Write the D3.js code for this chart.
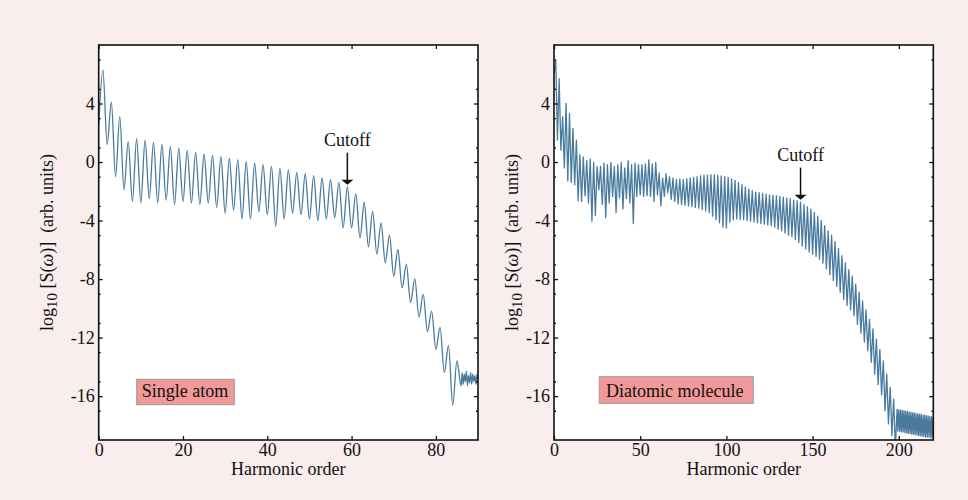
<!DOCTYPE html>
<html lang="en">
<head>
  <meta charset="UTF-8">
  <title>HHG spectra: single atom vs diatomic molecule</title>
  <script src="https://d3js.org/d3.v7.min.js"></script>
  <style>
    body {
      margin: 0;
      background: #f9eded;
    }

    svg {
      display: block;
      font-family: "Liberation Serif", "Times New Roman", serif;
    }

    .tick text {
      font-family: "Liberation Serif", "Times New Roman", serif;
      font-size: 18px;
      fill: #111;
    }
  </style>
</head>
<body>
  <div id="chart"></div>
  <script>

    const yMajorTicks = [-16, -12, -8, -4, 0, 4]
    const yMinorTicks = [-17, -15, -13, -11, -9, -7, -5, -3, -1, 1, 3, 5, 7]
    const atomOrderTicks = [0, 20, 40, 60, 80]
    const moleculeOrderTicks = [0, 50, 100, 150, 200]

    // single atom: log10 S at odd orders 1..85 (peaks) and even orders 0..84 (dips)
    const atomPeaks = [6.3, 4.1, 3.1, 1.4, 1.6, 1.5, 1.35, 1.2, 1.06, 0.95,
      0.8, 0.68, 0.55, 0.45, 0.38, 0.27, 0.16, 0.04, -0.07, -0.18,
      -0.3, -0.41, -0.53, -0.71, -0.8, -0.93, -1.09, -1.2, -1.39, -1.7,
      -2.18, -2.75, -3.37, -4.16, -5.0, -5.98, -7.0, -7.98, -9.05, -10.19,
      -11.3, -12.53, -13.6]
    const atomDips = [2.5, 1.2, -1.0, -1.9, -2.7, -2.8, -2.5, -2.8, -2.6, -2.9,
      -2.7, -2.8, -2.9, -2.8, -3.1, -3.5, -3.3, -3.9, -3.9, -3.4,
      -3.6, -4.4, -3.9, -3.5, -3.6, -3.9, -4.0, -3.9, -3.8, -4.5,
      -4.5, -5.2, -5.8, -6.3, -6.9, -7.8, -8.6, -9.6, -10.6, -11.6,
      -12.8, -14.4, -16.6]
    const atomTailOrders = [86, 86.25, 86.5, 86.75, 87, 87.25, 87.5, 87.75, 88,
      88.25, 88.5, 88.75, 89, 89.25, 89.5, 89.75, 90]
    const atomTailValues = [-15.3, -14.4, -15.2, -14.5, -15.0, -14.3, -15.3, -14.6, -15.1,
      -14.4, -15.2, -14.5, -15.0, -14.6, -15.2, -14.5, -14.9]

    // diatomic molecule: odd orders 1..197 (peaks) and even orders 0..198 (dips)
    const moleculePeaks = [7.0, 5.7, 3.1, 4.0, 3.3, 2.3, 1.5, 0.5, 0.35, 0.1,
      0.2, 0.0, -0.3, -0.3, -0.07, -0.18, -0.03, -0.3, -0.18, -0.03,
      -0.4, 0.1, -0.18, -0.07, -0.18, -0.18, -0.12, 0.15, -0.12, -0.03,
      -0.75, -1.1, -0.8, -1.0, -1.1, -1.2, -1.15, -1.2, -1.15, -1.1,
      -1.05, -1.0, -0.95, -0.9, -0.88, -0.87, -0.87, -0.9, -0.95, -1.0,
      -1.05, -1.15, -1.25, -1.4, -1.55, -1.7, -1.85, -1.95, -2.05, -2.1,
      -2.15, -2.2, -2.25, -2.28, -2.3, -2.35, -2.4, -2.45, -2.5, -2.6,
      -2.65, -2.75, -2.9, -3.05, -3.2, -3.45, -3.7, -4.0, -4.35, -4.7,
      -5.0, -5.45, -5.9, -6.4, -6.9, -7.35, -7.8, -8.35, -8.9, -9.5,
      -10.1, -10.75, -11.4, -12.1, -12.8, -13.6, -14.5, -15.4, -16.2]
    const moleculeDips = [6.0, 1.5, 0.8, -0.4, -1.3, -1.4, -1.55, -2.65, -2.7, -2.3,
      -2.8, -4.05, -3.65, -1.9, -2.9, -3.8, -2.8, -2.35, -3.45, -2.45,
      -3.2, -2.5, -2.8, -4.2, -2.35, -2.25, -2.35, -2.3, -2.35, -2.7,
      -2.25, -3.0, -2.35, -2.1, -2.55, -2.7, -2.85, -2.9, -2.95, -3.0,
      -3.05, -3.1, -3.15, -3.25, -3.35, -3.45, -3.7, -3.95, -4.15, -4.45,
      -4.5, -4.1, -3.95, -3.9, -3.95, -3.95, -4.0, -4.05, -4.1, -4.15,
      -4.2, -4.25, -4.3, -4.35, -4.45, -4.6, -4.7, -4.85, -5.0, -5.1,
      -5.3, -5.5, -5.75, -5.95, -6.15, -6.3, -6.45, -6.65, -6.9, -7.3,
      -7.7, -8.1, -8.5, -8.9, -9.4, -9.8, -10.1, -10.5, -11.1, -11.7,
      -12.3, -12.9, -13.7, -14.5, -15.2, -15.9, -17.0, -17.9, -18.7, -19.5]
    const moleculeTailOrders = [199, 199.5, 200, 200.5, 201, 201.5, 202, 202.5, 203, 203.5,
      204, 204.5, 205, 205.5, 206, 206.5, 207, 207.5, 208, 208.5,
      209, 209.5, 210, 210.5, 211, 211.5, 212, 212.5, 213, 213.5,
      214, 214.5, 215, 215.5, 216, 216.5, 217, 217.5, 218, 218.5,
      219, 219.5, 220]
    const moleculeTailValues = [-16.9, -18.4, -16.95, -18.4, -16.95, -18.45, -17.0, -18.45, -17.0, -18.5,
      -17.05, -18.5, -17.05, -18.55, -17.1, -18.55, -17.1, -18.6, -17.15, -18.6,
      -17.15, -18.65, -17.2, -18.65, -17.2, -18.7, -17.25, -18.7, -17.25, -18.75,
      -17.3, -18.75, -17.3, -18.8, -17.35, -18.8, -17.35, -18.8, -17.4, -18.85,
      -17.4, -18.85, -17.45]

    function spectrum(peaks, dips, tailOrders, tailValues) {
      const pts = []
      dips.forEach((d, i) => {
        pts.push([2 * i, d])
        if (i < peaks.length) pts.push([2 * i + 1, peaks[i]])
      })
      tailOrders.forEach((o, i) => pts.push([o, tailValues[i]]))
      return pts
    }

    const width = 968
    const height = 500
    const plotTop = 45
    const plotW = 379.3
    const plotH = 395
    const lineColor = '#497b9f'

    const svg = d3.select('#chart')
      .append('svg')
      .attr('width', width)
      .attr('height', height)

    svg.append('rect')
      .attr('width', width)
      .attr('height', height)
      .attr('fill', '#f9eded')

    const panels = [
      {
        id: 'atom', left: 98.7, domain: [0, 90], ticks: atomOrderTicks,
        data: spectrum(atomPeaks, atomDips, atomTailOrders, atomTailValues),
        curve: d3.curveMonotoneX, width: 1.3,
        name: 'Single atom', box: [38, 334.3, 97.6, 25.4], textX: 43, textY: 352.3,
        cutoff: [59, -1.55], ylabelX: 53
      },
      {
        id: 'mol', left: 554, domain: [0, 220], ticks: moleculeOrderTicks,
        data: spectrum(moleculePeaks, moleculeDips, moleculeTailOrders, moleculeTailValues),
        curve: d3.curveLinear, width: 1.3,
        name: 'Diatomic molecule', box: [45.3, 331.7, 154, 26.6], textX: 52, textY: 351.7,
        cutoff: [143, -2.57], ylabelX: 518
      }
    ]

    const y = d3.scaleLinear().domain([-19, 8]).range([plotH, 0])

    panels.forEach(p => {
      const x = d3.scaleLinear().domain(p.domain).range([0, plotW])
      const g = svg.append('g').attr('transform', `translate(${p.left},${plotTop})`)

      g.append('rect')
        .attr('width', plotW)
        .attr('height', plotH)
        .attr('fill', 'white')

      g.append('clipPath')
        .attr('id', `clip-${p.id}`)
        .append('rect')
        .attr('width', plotW)
        .attr('height', plotH)

      const line = d3.line()
        .x(d => x(d[0]))
        .y(d => y(d[1]))
        .curve(p.curve)

      g.append('path')
        .datum(p.data)
        .attr('clip-path', `url(#clip-${p.id})`)
        .attr('fill', 'none')
        .attr('stroke', lineColor)
        .attr('stroke-width', p.width)
        .attr('stroke-linejoin', 'round')
        .attr('d', line)

      // axes, all ticks pointing inward
      const asText = d => String(d)
      const axes = [
        d3.axisBottom(x).tickValues(p.ticks).tickSizeInner(-4).tickSizeOuter(0).tickPadding(3).tickFormat(asText),
        d3.axisTop(x).tickValues(p.ticks).tickSizeInner(-4).tickSizeOuter(0).tickFormat(''),
        d3.axisLeft(y).tickValues(yMajorTicks).tickSizeInner(-4).tickSizeOuter(0).tickPadding(4).tickFormat(asText),
        d3.axisLeft(y).tickValues(yMinorTicks).tickSizeInner(-2).tickSizeOuter(0).tickFormat(''),
        d3.axisRight(y).tickValues(yMajorTicks).tickSizeInner(-4).tickSizeOuter(0).tickFormat(''),
        d3.axisRight(y).tickValues(yMinorTicks).tickSizeInner(-2).tickSizeOuter(0).tickFormat('')
      ]
      const places = [[0, plotH], [0, 0], [0, 0], [0, 0], [plotW, 0], [plotW, 0]]
      axes.forEach((a, i) => {
        const ag = g.append('g')
          .attr('transform', `translate(${places[i][0]},${places[i][1]})`)
          .call(a)
          .attr('font-family', null)
          .attr('font-size', null)
        ag.select('.domain').remove()
        ag.selectAll('.tick line').attr('stroke', '#111').attr('stroke-width', 1.3)
      })

      g.append('rect')
        .attr('width', plotW)
        .attr('height', plotH)
        .attr('fill', 'none')
        .attr('stroke', '#111')
        .attr('stroke-width', 1.6)

      // axis titles
      g.append('text')
        .attr('x', plotW / 2)
        .attr('y', plotH + 35)
        .attr('text-anchor', 'middle')
        .attr('font-size', 18)
        .attr('fill', '#111')
        .text('Harmonic order')

      const yl = svg.append('text')
        .attr('transform', `translate(${p.ylabelX},${plotTop + plotH / 2}) rotate(-90)`)
        .attr('text-anchor', 'middle')
        .attr('font-size', 18)
        .attr('fill', '#111')
        .style('white-space', 'pre')
      yl.append('tspan').text('log')
      yl.append('tspan').attr('font-size', 15).attr('dy', 4).text('10')
      yl.append('tspan').attr('dy', -4).text(' [S(')
      yl.append('tspan').attr('font-style', 'italic').text('ω')
      yl.append('tspan').text(')]  (arb. units)')

      // cutoff arrow
      const cx = x(p.cutoff[0])
      const tip = y(p.cutoff[1])
      g.append('line')
        .attr('x1', cx).attr('x2', cx)
        .attr('y1', tip - 32).attr('y2', tip - 3)
        .attr('stroke', '#111')
        .attr('stroke-width', 1.5)
      g.append('path')
        .attr('d', `M${cx - 6},${tip - 5}L${cx + 6},${tip - 5}L${cx},${tip}Z`)
        .attr('fill', '#111')
      g.append('text')
        .attr('x', cx)
        .attr('y', tip - 39)
        .attr('text-anchor', 'middle')
        .attr('font-size', 18)
        .attr('fill', '#111')
        .text('Cutoff')

      // name tag
      g.append('rect')
        .attr('x', p.box[0]).attr('y', p.box[1])
        .attr('width', p.box[2]).attr('height', p.box[3])
        .attr('fill', '#f19898')
        .attr('stroke', '#9b9b9b')
        .attr('stroke-width', 1)
      g.append('text')
        .attr('x', p.textX)
        .attr('y', p.textY)
        .attr('font-size', 18)
        .attr('fill', '#111')
        .text(p.name)
    })

  </script>
</body>
</html>
